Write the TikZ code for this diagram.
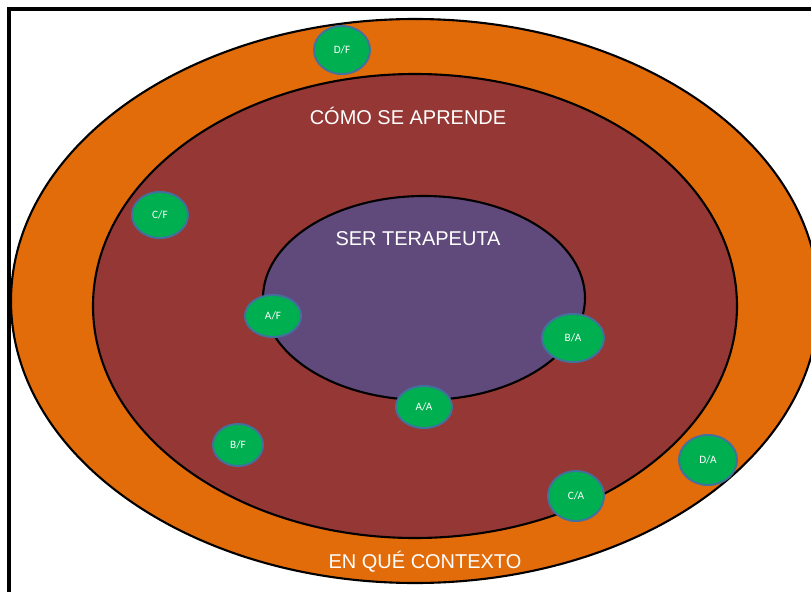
\documentclass[tikz,border=0pt]{standalone}
\usepackage{fontspec}
\setmainfont{Liberation Sans}
\newfontfamily\labelfont{Carlito}
\usetikzlibrary{shapes.geometric}
\definecolor{outerorange}{HTML}{E36C0A}
\definecolor{midred}{HTML}{953735}
\definecolor{innerpurple}{HTML}{604A7B}
\definecolor{dotgreen}{HTML}{00B050}
\definecolor{dotblue}{HTML}{41719C}
\tikzset{
  ring/.style={draw=black, line width=1.5pt},
  title/.style={text=white, font=\fontsize{14.2}{16}\selectfont},
  dot/.style={ellipse, draw=dotblue, line width=1.4pt, fill=dotgreen, text=white,
    inner sep=0pt, minimum width=1.4cm, minimum height=1.2cm,
    font=\labelfont\fontsize{8}{9}\selectfont}
}
\begin{document}
\begin{tikzpicture}[x=0.025cm,y=-0.025cm]
      \useasboundingbox (0,0) rectangle (811,592);
      \begin{scope}
        \clip (0,0) rectangle (811,592);
        \draw[ring, fill=outerorange] (415,301) ellipse (404 and 282);
        \draw[ring, fill=midred] (415,306) ellipse (322 and 232);
        \draw[ring, fill=innerpurple] (424,298) ellipse (161 and 102);
        \draw[line width=2.6pt] (9,600) -- (9,9) -- (820,9);
      \end{scope}
      \draw
        (408,116) node[title] (howlearn){CÓMO SE APRENDE}
        (418,239) node[title] (therapist){SER TERAPEUTA}
        (425,562) node[title] (context){EN QUÉ CONTEXTO};
      \draw
        (342,50) node[dot] (df){D/F}
        (160,215) node[dot, minimum height=1.15cm] (cf){C/F}
        (273,316) node[dot, minimum height=1.05cm] (af){A/F}
        (573,338) node[dot, minimum width=1.55cm] (ba){B/A}
        (424,407) node[dot, minimum height=1.05cm] (aa){A/A}
        (238,445) node[dot, minimum width=1.25cm, minimum height=1.05cm] (bf){B/F}
        (576,496) node[dot, minimum height=1.25cm] (ca){C/A}
        (708,460) node[dot, minimum width=1.45cm, minimum height=1.25cm] (da){D/A};
    \end{tikzpicture}
\end{document}
